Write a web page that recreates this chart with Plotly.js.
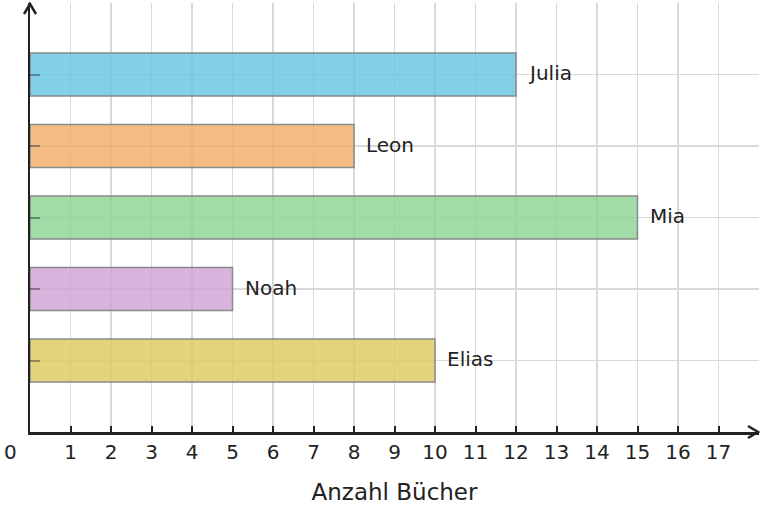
<!DOCTYPE html>
<html>
<head>
<meta charset="utf-8">
<script src="https://cdn.plot.ly/plotly-3.0.1.min.js"></script>
<style>html,body{margin:0;padding:0;background:#fff;}#chart{width:763px;height:508px;}</style>
</head>
<body>
<div id="chart"></div>
<script>
// Data
const names = ["Julia", "Leon", "Mia", "Noah", "Elias"];
const books = [12, 8, 15, 5, 10];
const positions = [5, 4, 3, 2, 1];
const fillColors = ["rgba(99,195,227,0.8)", "rgba(241,171,103,0.8)", "rgba(138,210,142,0.8)", "rgba(206,161,211,0.8)", "rgba(221,200,90,0.8)"];
const xTickVals = [1,2,3,4,5,6,7,8,9,10,11,12,13,14,15,16,17];
const xTickText = xTickVals.map(String);
const xTitle = "Anzahl Bücher";

const FONT = "DejaVu Sans, sans-serif";
const AXC = "#222222";
const GRID = "#d9d9d9";

const trace = {
  type: "bar",
  orientation: "h",
  x: books,
  y: positions,
  width: 0.6,
  marker: {color: fillColors, line: {color: "#8a8a8a", width: 1.5}},
  hoverinfo: "skip"
};

const annotations = names.map((n, i) => ({
  x: books[i], y: positions[i], xref: "x", yref: "y",
  text: n, showarrow: false, xanchor: "left", yanchor: "middle",
  xshift: 10, yshift: 1.5, font: {family: FONT, size: 20, color: AXC}
}));
annotations.push({
  x: 0, y: 0, xref: "x", yref: "paper", text: "0", showarrow: false,
  xanchor: "center", yanchor: "top", xshift: -20, yshift: -6,
  font: {family: FONT, size: 20, color: AXC}
});

const shapes = [
  // x-axis arrow head
  {type: "path", xref: "paper", yref: "paper", xsizemode: "pixel", ysizemode: "pixel",
   xanchor: 1, yanchor: 0, path: "M-11,-6 L-1,0 L-11,6", line: {color: AXC, width: 2.5}},
  // y-axis arrow head
  {type: "path", xref: "paper", yref: "paper", xsizemode: "pixel", ysizemode: "pixel",
   xanchor: 0, yanchor: 1, path: "M-6,-11 L0,-1 L6,-11", line: {color: AXC, width: 2.5}}
];

const layout = {
  width: 763, height: 508,
  margin: {l: 30, r: 4, t: 3, b: 76},
  paper_bgcolor: "#fff", plot_bgcolor: "#fff",
  showlegend: false,
  font: {family: FONT, color: AXC},
  xaxis: {
    range: [0, 18], tickmode: "array", tickvals: xTickVals, ticktext: xTickText,
    showgrid: true, gridcolor: GRID, gridwidth: 1.5,
    minor: {tickmode: "array", tickvals: [18], showgrid: true, gridcolor: GRID, gridwidth: 1.5, ticks: ""},
    zeroline: false, showline: true, linecolor: AXC, linewidth: 2.5,
    ticks: "inside", ticklen: 6, tickwidth: 2, tickcolor: AXC,
    ticklabelstandoff: 0,
    tickfont: {family: FONT, size: 20, color: AXC},
    title: {text: xTitle, font: {family: FONT, size: 23, color: AXC}, standoff: 22},
    fixedrange: true
  },
  yaxis: {
    range: [0, 6], tickmode: "array", tickvals: positions, ticktext: positions.map(() => ""),
    showgrid: true, gridcolor: GRID, gridwidth: 1.5,
    minor: {tickmode: "array", tickvals: [6], showgrid: true, gridcolor: GRID, gridwidth: 1.5, ticks: ""},
    zeroline: false, showline: true, linecolor: AXC, linewidth: 2.5,
    ticks: "inside", ticklen: 10, tickwidth: 2, tickcolor: "rgba(30,30,30,0.4)",
    fixedrange: true
  },
  annotations: annotations,
  shapes: shapes
};

Plotly.newPlot("chart", [trace], layout, {displayModeBar: false, staticPlot: true});
</script>
</body>
</html>
